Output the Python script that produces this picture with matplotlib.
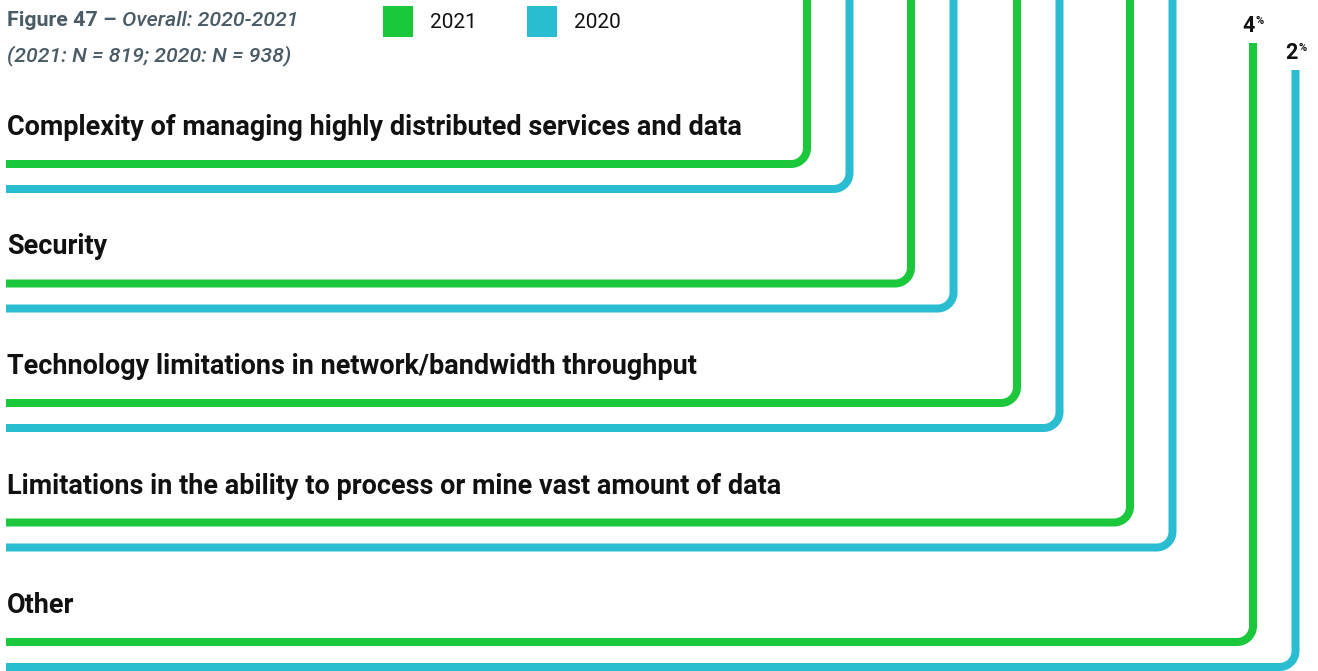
import numpy as np
import matplotlib
matplotlib.use("Agg")
import matplotlib.pyplot as plt

# ---------------- data ----------------
categories = [
    "Complexity of managing highly distributed services and data",
    "Security",
    "Technology limitations in network/bandwidth throughput",
    "Limitations in the ability to process or mine vast amount of data",
    "Other",
]
values_2021 = [38, 33, 29, 26, 4]   # only "Other" visible in crop; others estimated (off-chart)
values_2020 = [40, 34, 30, 27, 2]
series_names = ["2021", "2020"]
colors = ["#1cc83b", "#2abdd1"]

title_bold = "Figure 47 \u2013 "
title_italic = "Overall: 2020-2021"
subtitle = "(2021: N = 819; 2020: N = 938)"

# ---------------- layout ----------------
W, H = 1318, 671
fig = plt.figure(figsize=(W / 100, H / 100), dpi=100)
ax = fig.add_axes([0, 0, 1, 1])
ax.set_xlim(0, W)
ax.set_ylim(H, 0)
ax.axis("off")

row_y0 = 164.0          # first green horizontal
row_step = 119.5
pair_gap = 25.0         # cyan below green
x_start = 6
x_green = [807, 911, 1017, 1130, 1253]
x_gap = 42.5
zero_y = 97.0           # value scale: 0 % level
px_per_pct = 13.5
radius = 16
lw_pt = 8 * 72 / 100

font = "Roboto"
gray = "#4a5b66"


def draw_elbow(x_end, y_h, y_top, color):
    r = radius
    cx, cy = x_end - r, y_h - r
    th = np.linspace(np.pi / 2, 0, 30)
    xs = np.concatenate([[x_start], cx + r * np.cos(th), [x_end]])
    ys = np.concatenate([[y_h], cy + r * np.sin(th), [y_top]])
    ax.plot(xs, ys, color=color, lw=lw_pt, solid_capstyle="butt",
            solid_joinstyle="round")


def pct_label(x, y_top, v):
    t = ax.text(x + 2, y_top - 11, f"{v}", ha="right", va="baseline",
                fontsize=15.5, fontweight="bold", family=font, color="#111111")
    ax.annotate("%", xy=(1, 1), xycoords=t, xytext=(0.5, -0.5),
                textcoords="offset points", ha="left", va="top",
                fontsize=8, fontweight="bold", family=font, color="#111111")


for i, cat in enumerate(categories):
    yg = row_y0 + i * row_step
    yc = yg + pair_gap
    xg = x_green[i]
    xc = xg + x_gap
    for xv, yh, val, col in [(xg, yg, values_2021[i], colors[0]),
                             (xc, yc, values_2020[i], colors[1])]:
        y_top = zero_y - val * px_per_pct
        draw_elbow(xv, yh, y_top, col)
        if y_top > 20:
            pct_label(xv, y_top, val)
    ax.text(7, yg - 29, cat, ha="left", va="baseline", fontsize=19.45,
            fontweight="bold", family=font, color="#111111")

# title
t1 = ax.text(7, 26, title_bold, ha="left", va="baseline", fontsize=15.4,
             fontweight="bold", family=font, color=gray)
ax.annotate(title_italic, xy=(1, 0), xycoords=t1, xytext=(0, 0),
            textcoords="offset points", ha="left", va="bottom",
            fontsize=15.4, fontweight="medium", fontstyle="italic",
            family=font, color=gray)
ax.text(7, 61, subtitle, ha="left", va="baseline", fontsize=15.3,
        fontweight="medium", fontstyle="italic", family=font, color=gray)

# legend
leg_x = [383, 527]
for lx, name, col in zip(leg_x, series_names, colors):
    ax.add_patch(plt.Rectangle((lx, 6), 30, 31, color=col, lw=0))
    ax.text(lx + 47, 22, name, ha="left", va="center", fontsize=15,
            family=font, color="#111111")

fig.savefig("out.png", dpi=100)
